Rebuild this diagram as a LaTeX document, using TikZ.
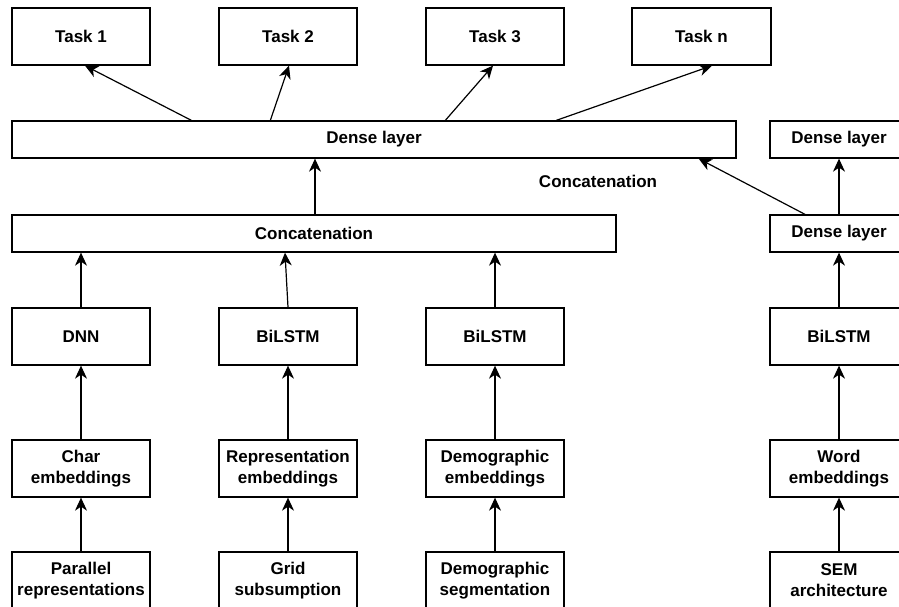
\documentclass[tikz,border=0pt]{standalone}
\usepackage{fontspec}
\setmainfont{Liberation Sans}
\usetikzlibrary{arrows.meta}
\begin{document}
\begin{tikzpicture}[x=1pt,y=-1pt,
  box/.style={draw,line width=1.3pt,minimum width=138pt,minimum height=57pt,inner sep=0pt,align=center,font=\fontsize{17}{21}\selectfont\bfseries},
  wide/.style={draw,line width=1.3pt,minimum height=37pt,inner sep=0pt,font=\fontsize{17}{21}\selectfont\bfseries},
  lbl/.style={inner sep=0pt,font=\fontsize{17}{21}\selectfont\bfseries},
  arr/.style={line width=1.2pt,-{Stealth[length=13pt,width=12pt,inset=4pt]}}]
\clip (0,0) rectangle (899,607);
\fill[white] (0,0) rectangle (899,607);
% top tasks
\node[box] (t1) at (81,36.5) {Task 1};
\node[box] (t2) at (288,36.5) {Task 2};
\node[box] (t3) at (495,36.5) {Task 3};
\node[box,minimum width=139pt] (tn) at (701.5,36.5) {Task n};
% dense layers
\node[wide,minimum width=724pt] (dense) at (374,139.5) {Dense layer};
\node[wide,minimum width=138pt] (denseR) at (839,139.5) {Dense layer};
\node[lbl] (concatlbl) at (598,181) {Concatenation};
\node[wide,minimum width=604pt] (concat) at (314,233.5) {Concatenation};
\node[wide,minimum width=138pt] (denseR2) at (839,233.5) {Dense layer};
% encoders
\node[box] (dnn) at (81,336.5) {DNN};
\node[box] (bil2) at (288,336.5) {BiLSTM};
\node[box] (bil3) at (495,336.5) {BiLSTM};
\node[box] (bilR) at (839,336.5) {BiLSTM};
% embeddings
\node[box] (char) at (81,468.5) {Char\\embeddings};
\node[box] (rep) at (288,468.5) {Representation\\embeddings};
\node[box] (demE) at (495,468.5) {Demographic\\embeddings};
\node[box] (word) at (839,468.5) {Word\\embeddings};
% inputs
\node[box] (par) at (81,580.5) {Parallel\\representations};
\node[box] (grid) at (288,580.5) {Grid\\subsumption};
\node[box] (demS) at (495,580.5) {Demographic\\segmentation};
\node[box] (sem) at (839,580.5) {SEM\\architecture};
% arrows to tasks
\draw[arr] ([xshift=180pt]dense.north west) -- ([xshift=4pt]t1.south);
\draw[arr] ([xshift=259pt]dense.north west) -- ([xshift=1pt]t2.south);
\draw[arr] ([xshift=434pt]dense.north west) -- ([xshift=-2pt]t3.south);
\draw[arr] ([xshift=545pt]dense.north west) -- ([xshift=10.5pt]tn.south);
% concat to dense
\draw[arr] ([xshift=1pt]concat.north) -- ([xshift=-59pt]dense.south);
\draw[arr] ([xshift=-34pt]denseR2.north) -- ([xshift=-38pt]dense.south east);
\draw[arr] (denseR2.north) -- (denseR.south);
% encoders to concat
\draw[arr] (dnn.north) -- (concat.south -| dnn.north);
\draw[arr] (bil2.north) -- ([xshift=-3pt]concat.south -| bil2.north);
\draw[arr] (bil3.north) -- (concat.south -| bil3.north);
\draw[arr] (bilR.north) -- (denseR2.south);
% embeddings to encoders
\draw[arr] (char.north) -- (dnn.south);
\draw[arr] (rep.north) -- (bil2.south);
\draw[arr] (demE.north) -- (bil3.south);
\draw[arr] (word.north) -- (bilR.south);
% inputs to embeddings
\draw[arr] (par.north) -- (char.south);
\draw[arr] (grid.north) -- (rep.south);
\draw[arr] (demS.north) -- (demE.south);
\draw[arr] (sem.north) -- (word.south);
\end{tikzpicture}
\end{document}
